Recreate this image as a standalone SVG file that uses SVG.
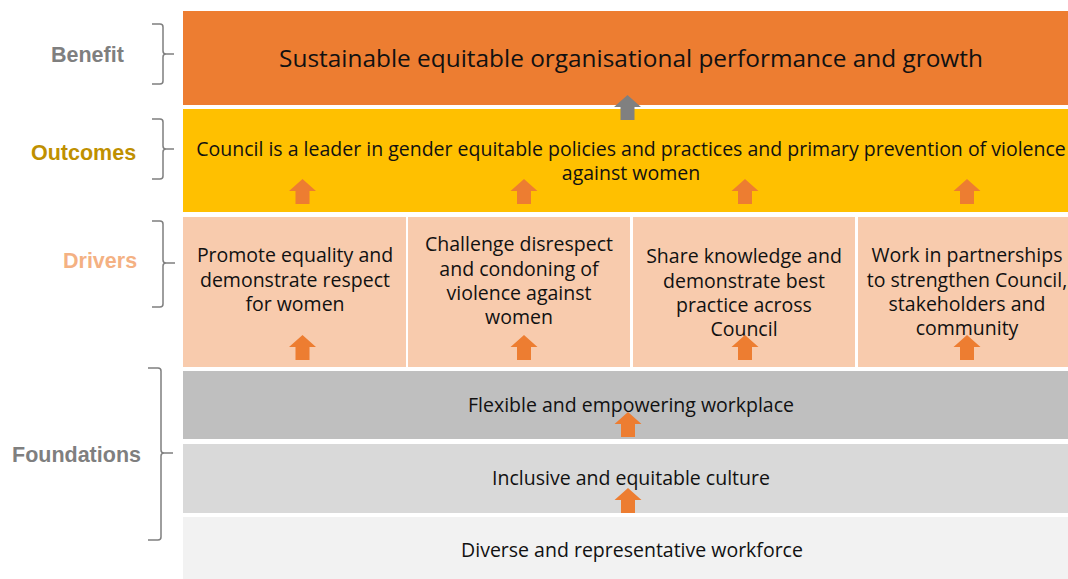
<svg xmlns="http://www.w3.org/2000/svg" xmlns:xlink="http://www.w3.org/1999/xlink" width="1068" height="579" viewBox="0 0 1068 579">
<style>
.t{font-family:"Open Sans","Liberation Sans",sans-serif;fill:#111;text-anchor:middle}
.lbl{font-family:"Liberation Sans","Open Sans",sans-serif;font-weight:bold;font-size:21.5px}
.br{fill:none;stroke:#7F7F7F;stroke-width:1.5}
.ao{fill:#ED7D31}
.ag{fill:#808080}
</style>
<defs>
<path id="arr" d="M0,0 L13.5,12 L7,12 L7,25 L-7,25 L-7,12 L-13.5,12 Z"/>
</defs>
<rect width="1068" height="579" fill="#fff"/>

<g id="benefit">
<rect x="183" y="11" width="885" height="94" fill="#ED7D31"/>
<text class="t" x="631" y="67" font-size="24.4">Sustainable equitable organisational performance and growth</text>
</g>
<g id="outcomes">
<rect x="183" y="109" width="885" height="103" fill="#FFC000"/>
<text class="t" x="631" y="156" font-size="19.5">Council is a leader in gender equitable policies and practices and primary prevention of violence</text>
<text class="t" x="631" y="179.5" font-size="19.5">against women</text>
</g>
<g id="driver1">
<rect x="183" y="217" width="223" height="150" fill="#F8CBAD"/>
<text class="t" font-size="19.5"><tspan x="295" y="262">Promote equality and</tspan><tspan x="295" y="286.5">demonstrate respect</tspan><tspan x="295" y="311">for women</tspan></text>
</g>
<g id="driver2">
<rect x="408" y="217" width="222" height="150" fill="#F8CBAD"/>
<text class="t" font-size="19.5"><tspan x="519" y="251">Challenge disrespect</tspan><tspan x="519" y="275.5">and condoning of</tspan><tspan x="519" y="299.5">violence against</tspan><tspan x="519" y="324">women</tspan></text>
</g>
<g id="driver3">
<rect x="633" y="217" width="222" height="150" fill="#F8CBAD"/>
<text class="t" font-size="19.5"><tspan x="744" y="263">Share knowledge and</tspan><tspan x="744" y="287.5">demonstrate best</tspan><tspan x="744" y="312">practice across</tspan><tspan x="744" y="336">Council</tspan></text>
</g>
<g id="driver4">
<rect x="858" y="217" width="210" height="150" fill="#F8CBAD"/>
<text class="t" font-size="19.5"><tspan x="967" y="262">Work in partnerships</tspan><tspan x="967" y="286.5">to strengthen Council,</tspan><tspan x="967" y="311">stakeholders and</tspan><tspan x="967" y="335">community</tspan></text>
</g>
<g id="foundation1">
<rect x="183" y="371" width="885" height="68" fill="#BFBFBF"/>
<text class="t" x="631" y="412" font-size="19.5">Flexible and empowering workplace</text>
</g>
<g id="foundation2">
<rect x="183" y="444" width="885" height="69" fill="#D9D9D9"/>
<text class="t" x="631" y="485" font-size="19.5">Inclusive and equitable culture</text>
</g>
<g id="foundation3">
<rect x="183" y="517" width="885" height="62" fill="#F2F2F2"/>
<text class="t" x="632" y="557" font-size="19.5">Diverse and representative workforce</text>
</g>

<g id="label-benefit">
<text class="lbl" x="51" y="62" fill="#7F7F7F">Benefit</text>
<path class="br" d="M152,24 H160 Q163,24 163,27 V51 Q163,54 166,54 H174 M166,54 Q163,54 163,57 V81 Q163,84 160,84 H152"/>
</g>
<g id="label-outcomes">
<text class="lbl" x="31" y="160" fill="#BF9000">Outcomes</text>
<path class="br" d="M152,119 H160 Q163,119 163,122 V146 Q163,149 166,149 H174 M166,149 Q163,149 163,152 V176 Q163,179 160,179 H152"/>
</g>
<g id="label-drivers">
<text class="lbl" x="63" y="268" fill="#F4B183">Drivers</text>
<path class="br" d="M152,221 H160 Q163,221 163,224 V260 Q163,263 166,263 H175 M166,263 Q163,263 163,266 V304 Q163,307 160,307 H152"/>
</g>
<g id="label-foundations">
<text class="lbl" x="12" y="462" fill="#7F7F7F">Foundations</text>
<path class="br" d="M148,368 H158 Q161,368 161,371 V450 Q161,453 164,453 H173 M164,453 Q161,453 161,456 V537 Q161,540 158,540 H148"/>
</g>

<g id="connectors">
<use xlink:href="#arr" href="#arr" class="ag" x="627.5" y="95"/>
<use xlink:href="#arr" href="#arr" class="ao" x="302.5" y="179"/>
<use xlink:href="#arr" href="#arr" class="ao" x="524" y="179"/>
<use xlink:href="#arr" href="#arr" class="ao" x="745" y="179"/>
<use xlink:href="#arr" href="#arr" class="ao" x="967" y="179"/>
<use xlink:href="#arr" href="#arr" class="ao" x="302.5" y="335"/>
<use xlink:href="#arr" href="#arr" class="ao" x="524" y="335"/>
<use xlink:href="#arr" href="#arr" class="ao" x="745" y="335"/>
<use xlink:href="#arr" href="#arr" class="ao" x="967" y="335"/>
<use xlink:href="#arr" href="#arr" class="ao" x="628" y="412"/>
<use xlink:href="#arr" href="#arr" class="ao" x="628" y="488"/>
</g>
</svg>
